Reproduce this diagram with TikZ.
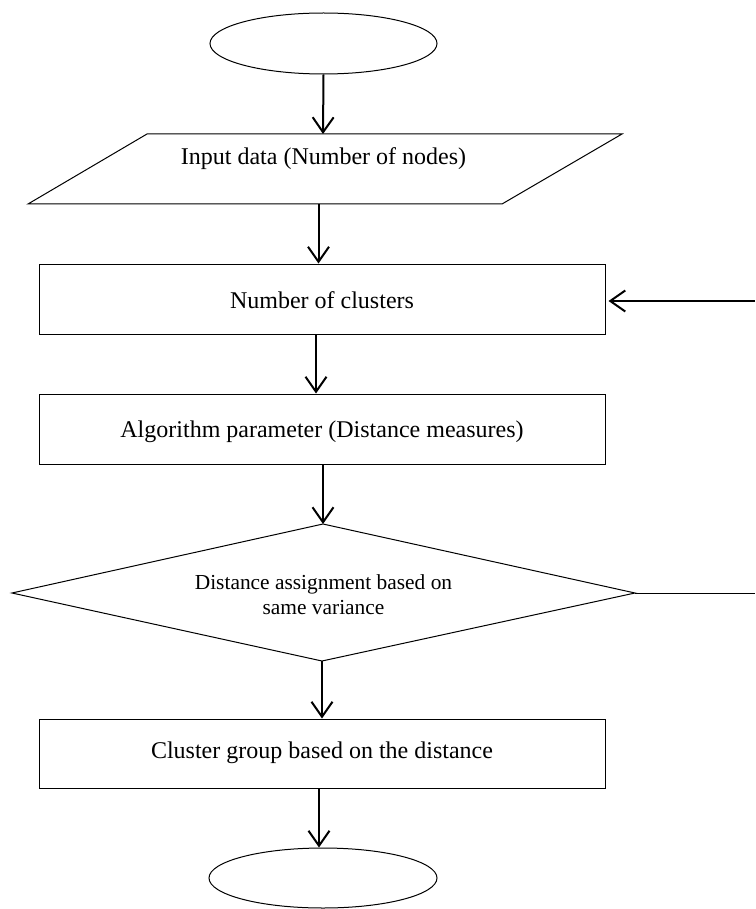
\documentclass[tikz,border=0pt]{standalone}
\usepackage{fontspec}
\setmainfont{Liberation Serif}
\usetikzlibrary{arrows.meta,shapes.geometric}
\begin{document}
\begin{tikzpicture}[x=1pt,y=-1pt,
  outline/.style={draw=black, line width=1pt},
  termshape/.style={ellipse, outline, inner sep=0pt},
  procbox/.style={rectangle, outline, minimum width=566pt, inner sep=0pt},
  flow/.style={draw=black, line width=2pt, -{Straight Barb[length=15pt,width=21pt]}},
  boxtext/.style={font=\fontsize{24}{28}\selectfont, inner sep=0pt, anchor=base},
  decitext/.style={font=\fontsize{21.4}{25}\selectfont, inner sep=0pt, anchor=base}]
\useasboundingbox (0,0) rectangle (755,909);

% terminals
\node[termshape, minimum width=227pt, minimum height=61pt] (start) at (323.5,43.5) {};
\node[termshape, minimum width=228pt, minimum height=60pt] (stop) at (323,878) {};

% input parallelogram
\coordinate (inTL) at (147,134);
\coordinate (inTR) at (622,134);
\coordinate (inBR) at (502,204);
\coordinate (inBL) at (28,204);
\coordinate (inTop) at (323,134);
\coordinate (inBot) at (318.5,204);
\draw[outline] (inTL) -- (inTR) -- (inBR) -- (inBL) -- cycle;
\node[boxtext] (intext) at (323.5,165) {Input data (Number of nodes)};

% process boxes
\node[procbox, minimum height=70pt] (clusters) at (322,299) {};
\node[boxtext] (clusterstext) at (322,308) {Number of clusters};
\node[procbox, minimum height=70pt] (algo) at (322,429) {};
\node[boxtext] (algotext) at (322,437) {Algorithm parameter (Distance measures)};
\node[procbox, minimum height=69pt] (group) at (322,753.5) {};
\node[boxtext] (grouptext) at (322,758) {Cluster group based on the distance};

% decision diamond
\coordinate (dT) at (323,524);
\coordinate (dR) at (635,593);
\coordinate (dB) at (322,661);
\coordinate (dL) at (12,593);
\draw[outline] (dT) -- (dR) -- (dB) -- (dL) -- cycle;
\node[decitext] (dtext1) at (323.5,589) {Distance assignment based on};
\node[decitext] (dtext2) at (323.5,614) {same variance};

% loop ends
\coordinate (fbTop) at (755,301);
\coordinate (fbBot) at (755,593);

% connectors
\draw[flow] (start.south) -- (inTop);
\draw[flow] (inBot) -- ([xshift=-3.5pt]clusters.north);
\draw[flow] ([xshift=-6pt]clusters.south) -- ([xshift=-6pt]algo.north);
\draw[flow] ([xshift=1pt]algo.south) -- (dT);
\draw[flow] (dB) -- (group.north);
\draw[flow] ([xshift=-3pt]group.south) -- ([xshift=-4pt]stop.north);
\draw[flow, shorten >=3pt] (fbTop) -- ([yshift=-2pt]clusters.east);
\draw[outline] (dR) -- (fbBot);
\end{tikzpicture}
\end{document}
